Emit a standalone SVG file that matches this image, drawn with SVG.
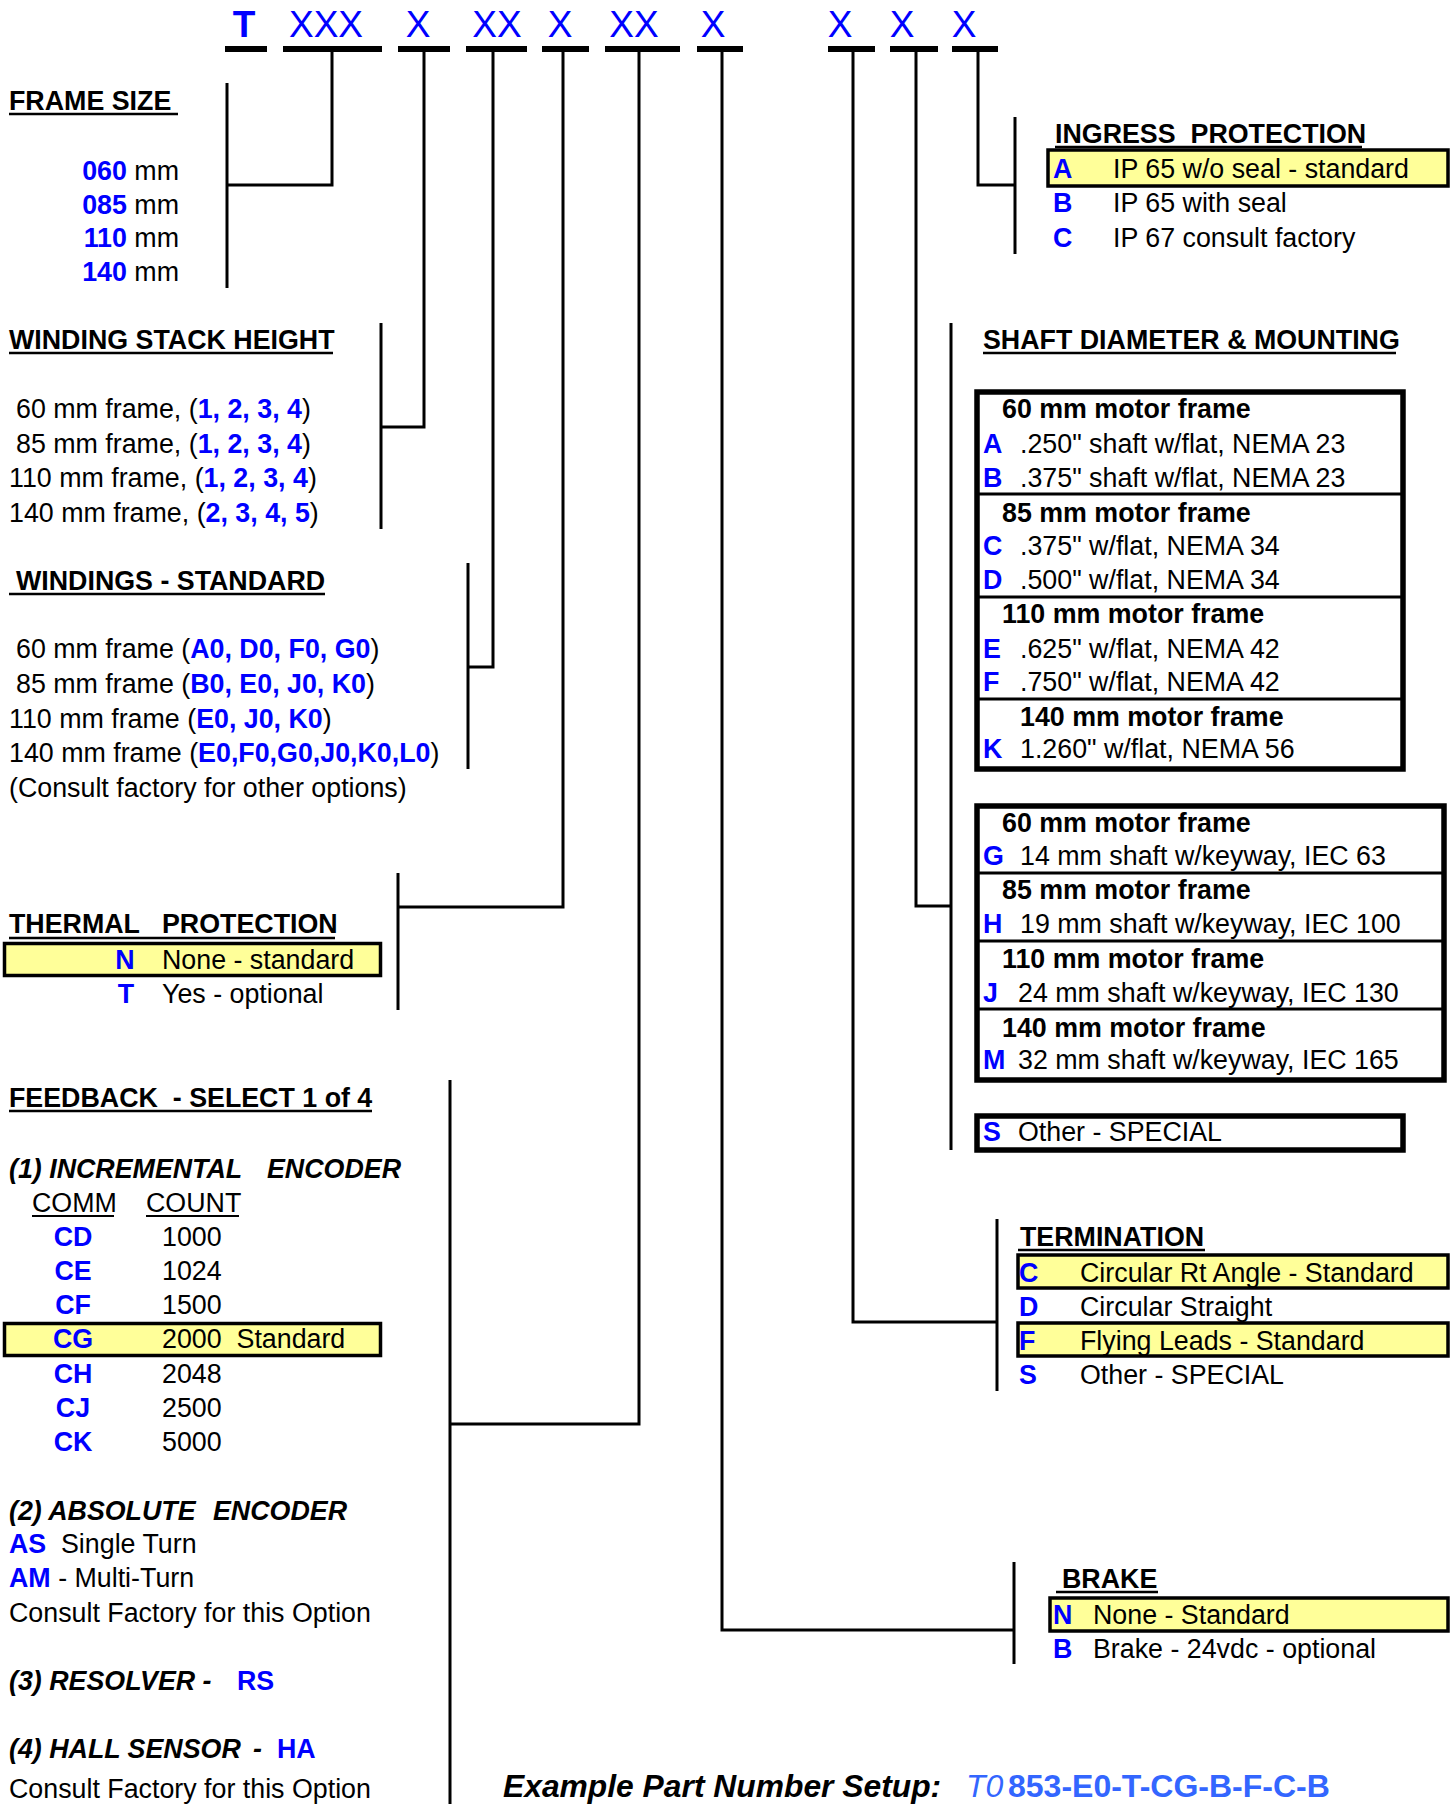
<svg xmlns="http://www.w3.org/2000/svg" width="1453" height="1804" viewBox="0 0 1453 1804">
<style>
text{font-family:"Liberation Sans",Arial,sans-serif;font-size:26.8px;fill:#000}
.b{font-weight:bold}
.i{font-style:italic}
.c{fill:#0000FF;font-weight:bold}
.code{fill:#0000FF;font-size:37px}
.ex{fill:#3366FF;font-size:32px}
.ln{stroke:#000;stroke-width:3;fill:none}
.bar{fill:#000}
.ul{stroke:#000;stroke-width:2.5}
.hl{fill:#FFFF99;stroke:#000;stroke-width:3.5}
.bx{fill:none;stroke:#000;stroke-width:5.5}
.dv{stroke:#000;stroke-width:3}
</style>
<rect width="1453" height="1804" fill="#fff"/>

<g id="code-row">
<text class="code b" x="244" y="37" text-anchor="middle">T</text>
<text class="code" x="326" y="37" text-anchor="middle">XXX</text>
<text class="code" x="418" y="37" text-anchor="middle">X</text>
<text class="code" x="497" y="37" text-anchor="middle">XX</text>
<text class="code" x="560" y="37" text-anchor="middle">X</text>
<text class="code" x="634" y="37" text-anchor="middle">XX</text>
<text class="code" x="713" y="37" text-anchor="middle">X</text>
<text class="code" x="840" y="37" text-anchor="middle">X</text>
<text class="code" x="902" y="37" text-anchor="middle">X</text>
<text class="code" x="964" y="37" text-anchor="middle">X</text>
<rect class="bar" x="225" y="46" width="42" height="6"/>
<rect class="bar" x="283" y="46" width="99" height="6"/>
<rect class="bar" x="398" y="46" width="52" height="6"/>
<rect class="bar" x="466" y="46" width="61" height="6"/>
<rect class="bar" x="542" y="46" width="47" height="6"/>
<rect class="bar" x="605" y="46" width="75" height="6"/>
<rect class="bar" x="697" y="46" width="46" height="6"/>
<rect class="bar" x="828" y="46" width="47" height="6"/>
<rect class="bar" x="890" y="46" width="48" height="6"/>
<rect class="bar" x="952" y="46" width="46" height="6"/>
</g>

<g id="connectors">
<path class="ln" d="M332 52V185H227"/>
<path class="ln" d="M227 83V288"/>
<path class="ln" d="M424 52V427H381"/>
<path class="ln" d="M381 323V529"/>
<path class="ln" d="M493 52V667H468"/>
<path class="ln" d="M468 563V769"/>
<path class="ln" d="M563 52V907H398"/>
<path class="ln" d="M398 873V1010"/>
<path class="ln" d="M639 52V1424H450"/>
<path class="ln" d="M450 1080V1804"/>
<path class="ln" d="M722 52V1630H1014"/>
<path class="ln" d="M1014 1562V1664"/>
<path class="ln" d="M853 52V1322H997"/>
<path class="ln" d="M997 1219V1391"/>
<path class="ln" d="M916 52V906H951"/>
<path class="ln" d="M951 323V1150"/>
<path class="ln" d="M978 52V185H1015"/>
<path class="ln" d="M1015 117V254"/>
</g>

<g id="frame-size">
<text class="b" x="9" y="110">FRAME SIZE</text>
<line class="ul" x1="9" y1="114" x2="178" y2="114"/>
<text x="179" y="180" text-anchor="end"><tspan class="c">060</tspan> mm</text>
<text x="179" y="214" text-anchor="end"><tspan class="c">085</tspan> mm</text>
<text x="179" y="247" text-anchor="end"><tspan class="c">110</tspan> mm</text>
<text x="179" y="281" text-anchor="end"><tspan class="c">140</tspan> mm</text>
</g>

<g id="winding-stack-height">
<text class="b" x="9" y="349">WINDING STACK HEIGHT</text>
<line class="ul" x1="9" y1="353" x2="333" y2="353"/>
<text x="16" y="418">60 mm frame, (<tspan class="c">1, 2, 3, 4</tspan>)</text>
<text x="16" y="453">85 mm frame, (<tspan class="c">1, 2, 3, 4</tspan>)</text>
<text x="9" y="487">110 mm frame, (<tspan class="c">1, 2, 3, 4</tspan>)</text>
<text x="9" y="522">140 mm frame, (<tspan class="c">2, 3, 4, 5</tspan>)</text>
</g>

<g id="windings-standard">
<text class="b" x="16" y="590">WINDINGS - STANDARD</text>
<line class="ul" x1="9" y1="594" x2="325" y2="594"/>
<text x="16" y="658">60 mm frame (<tspan class="c">A0, D0, F0, G0</tspan>)</text>
<text x="16" y="693">85 mm frame (<tspan class="c">B0, E0, J0, K0</tspan>)</text>
<text x="9" y="728">110 mm frame (<tspan class="c">E0, J0, K0</tspan>)</text>
<text x="9" y="762">140 mm frame (<tspan class="c">E0,F0,G0,J0,K0,L0</tspan>)</text>
<text x="9" y="797">(Consult factory for other options)</text>
</g>

<g id="thermal-protection">
<rect class="hl" x="4.5" y="943.5" width="376" height="32"/>
<text class="b" x="9" y="933">THERMAL</text>
<text class="b" x="162" y="933">PROTECTION</text>
<line class="ul" x1="9" y1="938" x2="335" y2="938"/>
<text class="c" x="125" y="969" text-anchor="middle">N</text>
<text x="162" y="969">None - standard</text>
<text class="c" x="126" y="1003" text-anchor="middle">T</text>
<text x="162" y="1003">Yes - optional</text>
</g>

<g id="feedback">
<text class="b" x="9" y="1107" xml:space="preserve">FEEDBACK  - SELECT 1 of 4</text>
<line class="ul" x1="9" y1="1111" x2="372" y2="1111"/>
<text class="b i" x="9" y="1178">(1) INCREMENTAL</text>
<text class="b i" x="267" y="1178">ENCODER</text>
<text x="32" y="1212">COMM</text>
<text x="146" y="1212">COUNT</text>
<line x1="32" y1="1216" x2="114" y2="1216" stroke="#000" stroke-width="2"/>
<line x1="146" y1="1216" x2="239" y2="1216" stroke="#000" stroke-width="2"/>
<rect class="hl" x="4.5" y="1323.5" width="376" height="32"/>
<text class="c" x="73" y="1246" text-anchor="middle">CD</text><text x="162" y="1246">1000</text>
<text class="c" x="73" y="1280" text-anchor="middle">CE</text><text x="162" y="1280">1024</text>
<text class="c" x="73" y="1314" text-anchor="middle">CF</text><text x="162" y="1314">1500</text>
<text class="c" x="73" y="1348" text-anchor="middle">CG</text><text x="162" y="1348" xml:space="preserve">2000  Standard</text>
<text class="c" x="73" y="1383" text-anchor="middle">CH</text><text x="162" y="1383">2048</text>
<text class="c" x="73" y="1417" text-anchor="middle">CJ</text><text x="162" y="1417">2500</text>
<text class="c" x="73" y="1451" text-anchor="middle">CK</text><text x="162" y="1451">5000</text>
<text class="b i" x="9" y="1520">(2) ABSOLUTE</text>
<text class="b i" x="213" y="1520">ENCODER</text>
<text x="9" y="1553"><tspan class="c">AS</tspan></text><text x="61" y="1553">Single Turn</text>
<text x="9" y="1587"><tspan class="c">AM</tspan> - Multi-Turn</text>
<text x="9" y="1622">Consult Factory for this Option</text>
<text class="b i" x="9" y="1690">(3) RESOLVER -</text>
<text class="c" x="237" y="1690">RS</text>
<text class="b i" x="9" y="1758">(4) HALL SENSOR</text>
<text class="b i" x="253" y="1758">-</text>
<text class="c" x="277" y="1758">HA</text>
<text x="9" y="1798">Consult Factory for this Option</text>
</g>

<g id="ingress-protection">
<rect class="hl" x="1048" y="150" width="400" height="36"/>
<text class="b" x="1055" y="143" xml:space="preserve">INGRESS  PROTECTION</text>
<line class="ul" x1="1055" y1="147" x2="1362" y2="147"/>
<text class="c" x="1053" y="178">A</text><text x="1113" y="178">IP 65 w/o seal - standard</text>
<text class="c" x="1053" y="212">B</text><text x="1113" y="212">IP 65 with seal</text>
<text class="c" x="1053" y="247">C</text><text x="1113" y="247">IP 67 consult factory</text>
</g>

<g id="shaft-diameter-mounting">
<text class="b" x="983" y="349">SHAFT DIAMETER &amp; MOUNTING</text>
<line class="ul" x1="983" y1="353" x2="1396" y2="353"/>
<rect class="bx" x="977" y="392" width="426" height="377"/>
<line class="dv" x1="977" y1="494" x2="1403" y2="494"/>
<line class="dv" x1="977" y1="597" x2="1403" y2="597"/>
<line class="dv" x1="977" y1="699" x2="1403" y2="699"/>
<text class="b" x="1002" y="418">60 mm motor frame</text>
<text class="c" x="983" y="453">A</text><text x="1020" y="453">.250" shaft w/flat, NEMA 23</text>
<text class="c" x="983" y="487">B</text><text x="1020" y="487">.375" shaft w/flat, NEMA 23</text>
<text class="b" x="1002" y="522">85 mm motor frame</text>
<text class="c" x="983" y="555">C</text><text x="1020" y="555">.375" w/flat, NEMA 34</text>
<text class="c" x="983" y="589">D</text><text x="1020" y="589">.500" w/flat, NEMA 34</text>
<text class="b" x="1002" y="623">110 mm motor frame</text>
<text class="c" x="983" y="658">E</text><text x="1020" y="658">.625" w/flat, NEMA 42</text>
<text class="c" x="983" y="691">F</text><text x="1020" y="691">.750" w/flat, NEMA 42</text>
<text class="b" x="1020" y="726">140 mm motor frame</text>
<text class="c" x="983" y="758">K</text><text x="1020" y="758">1.260" w/flat, NEMA 56</text>

<rect class="bx" x="977" y="806" width="467" height="274"/>
<line class="dv" x1="977" y1="873" x2="1444" y2="873"/>
<line class="dv" x1="977" y1="941" x2="1444" y2="941"/>
<line class="dv" x1="977" y1="1009" x2="1444" y2="1009"/>
<text class="b" x="1002" y="832">60 mm motor frame</text>
<text class="c" x="983" y="865">G</text><text x="1020" y="865">14 mm shaft w/keyway, IEC 63</text>
<text class="b" x="1002" y="899">85 mm motor frame</text>
<text class="c" x="983" y="933">H</text><text x="1020" y="933">19 mm shaft w/keyway, IEC 100</text>
<text class="b" x="1002" y="968">110 mm motor frame</text>
<text class="c" x="983" y="1002">J</text><text x="1018" y="1002">24 mm shaft w/keyway, IEC 130</text>
<text class="b" x="1002" y="1037">140 mm motor frame</text>
<text class="c" x="983" y="1069">M</text><text x="1018" y="1069">32 mm shaft w/keyway, IEC 165</text>

<rect class="bx" x="977" y="1116" width="426" height="34"/>
<text class="c" x="983" y="1141">S</text><text x="1018" y="1141">Other - SPECIAL</text>
</g>

<g id="termination">
<rect class="hl" x="1018" y="1255" width="430" height="33"/>
<rect class="hl" x="1018" y="1323" width="430" height="33"/>
<text class="b" x="1020" y="1246">TERMINATION</text>
<line class="ul" x1="1018" y1="1250" x2="1205" y2="1250"/>
<text class="c" x="1019" y="1282">C</text><text x="1080" y="1282">Circular Rt Angle - Standard</text>
<text class="c" x="1019" y="1316">D</text><text x="1080" y="1316">Circular Straight</text>
<text class="c" x="1019" y="1350">F</text><text x="1080" y="1350">Flying Leads - Standard</text>
<text class="c" x="1019" y="1384">S</text><text x="1080" y="1384">Other - SPECIAL</text>
</g>

<g id="brake">
<rect class="hl" x="1050" y="1598" width="398" height="33"/>
<text class="b" x="1062" y="1588">BRAKE</text>
<line class="ul" x1="1056" y1="1592" x2="1158" y2="1592"/>
<text class="c" x="1053" y="1624">N</text><text x="1093" y="1624">None - Standard</text>
<text class="c" x="1053" y="1658">B</text><text x="1093" y="1658">Brake - 24vdc - optional</text>
</g>

<g id="example">
<text class="b i" x="503" y="1797" style="font-size:31.8px">Example Part Number Setup:</text>
<text class="ex" x="966" y="1797"><tspan class="i">T0</tspan><tspan class="b" x="1008">853-E0-T-CG-B-F-C-B</tspan></text>
</g>
</svg>
